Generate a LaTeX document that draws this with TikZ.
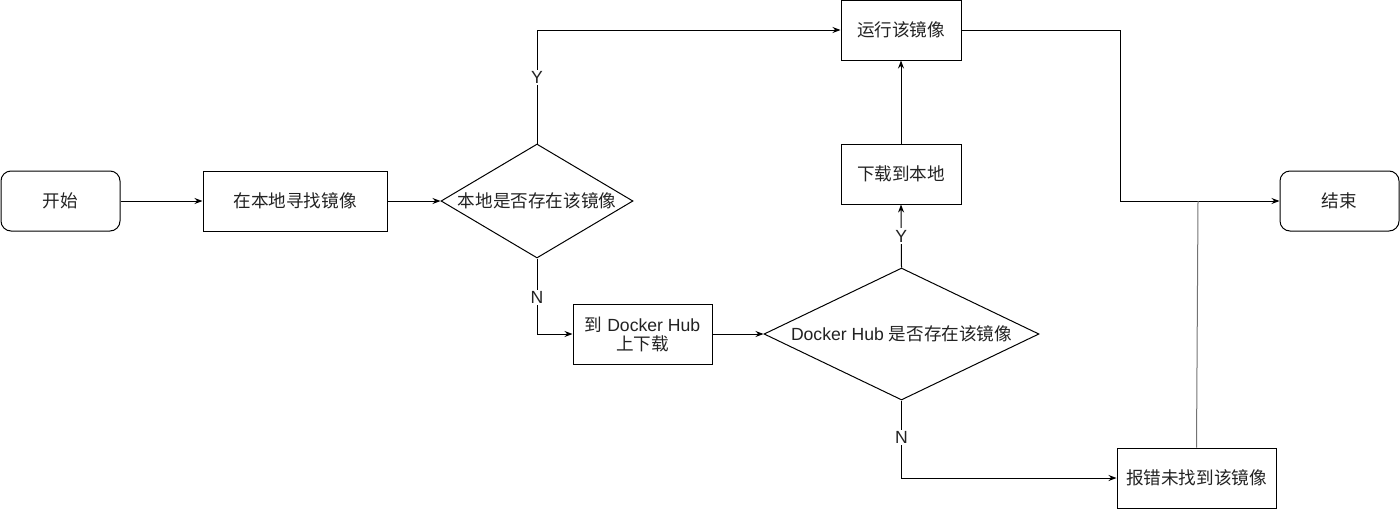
\documentclass[tikz,border=0pt]{standalone}
\usepackage{fontspec}
\setmainfont{Liberation Sans}
\newfontfamily\cjk{Noto Sans CJK SC}
\usetikzlibrary{shapes.geometric,arrows.meta}
\definecolor{txt}{HTML}{222222}
\begin{document}
\begin{tikzpicture}[x=1pt,y=-1pt,line width=1pt,
  every node/.style={font=\fontsize{17.6}{21}\selectfont, text=txt},
  box/.style={draw, rectangle, inner sep=0pt, minimum width=120pt, minimum height=60pt},
  rbox/.style={box, rounded corners=10pt},
  dia/.style={draw, diamond, inner sep=0pt},
  arr/.style={-{Stealth[length=8pt,width=6pt]}},
  lbl/.style={fill=white, inner sep=1.5pt}]
\useasboundingbox (0,0) rectangle (1400,509);
\node[rbox, minimum width=119pt] (start) at (60.5,201) {\cjk 开始};
\node[box, minimum width=184pt] (find) at (295,201) {\cjk 在本地寻找镜像};
\node[dia, minimum width=192pt, minimum height=114pt] (d1) at (537,201) {\makebox[0pt]{\cjk 本地是否存在该镜像}};
\node[box] (run) at (901,30) {\cjk 运行该镜像};
\node[box] (down) at (901,174) {\cjk 下载到本地};
\node[box, minimum width=139pt, minimum height=60pt, align=center] (dl) at (642.5,334) {{\cjk 到} Docker Hub\\[-2pt]{\cjk 上下载}};
\node[dia, minimum width=275pt, minimum height=132pt] (d2) at (901.5,334) {\makebox[0pt]{Docker Hub {\cjk 是否存在该镜像}}};
\node[box, minimum width=159pt] (err) at (1196.5,478) {\cjk 报错未找到该镜像};
\node[rbox, minimum width=119pt] (end) at (1339.5,201) {\cjk 结束};
\coordinate (j1) at (1120,201);
\coordinate (j2) at (1198,201);
\draw[arr] (start) -- (find);
\draw[arr] (find) -- (d1);
\draw[arr] (d1.north) |- node[lbl, pos=0.29]{Y} (run.west);
\draw[arr] (d1.south) |- node[lbl, pos=0.26]{N} (dl.west);
\draw[arr] (dl) -- (d2);
\draw[arr] (d2.north) -- node[lbl]{Y} (down.south);
\draw[arr] (down) -- (run);
\draw[arr] (d2.south) |- node[lbl, pos=0.24]{N} (err.west);
\draw[arr] (run.east) -| (j1) -- (end.west);
\draw[black!55] (err.north) -- (j2);
\end{tikzpicture}
\end{document}
